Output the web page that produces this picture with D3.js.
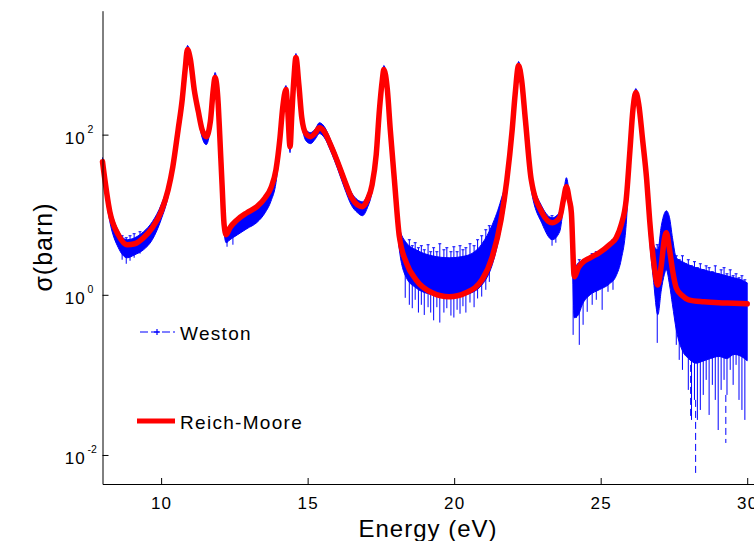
<!DOCTYPE html>
<html><head><meta charset="utf-8">
<script src="https://cdn.jsdelivr.net/npm/d3@7"></script>
<style>
body{margin:0;background:#fff}
svg{display:block}
text{font-family:"Liberation Sans",Arial,Helvetica,sans-serif;fill:#000}
</style>
</head><body>
<svg id="chart" width="754" height="541"></svg>
<script>
// ---- Reich-Moore fit (energy in eV, cross section in barn)
const rmEnergy = [8.0,8.25,8.54,8.84,9.1,9.4,9.7,10.0,10.24,10.4,10.58,10.72,10.82,10.9,11.0,11.13,11.27,11.4,11.54,11.68,11.78,11.84,11.95,12.0,12.08,12.15,12.22,12.35,12.6,12.93,13.27,13.55,13.75,13.92,14.05,14.15,14.26,14.32,14.4,14.46,14.53,14.6,14.7,14.8,14.94,15.1,15.27,15.4,15.57,15.78,16.02,16.25,16.5,16.7,16.87,17.04,17.2,17.34,17.45,17.55,17.6,17.72,17.82,17.96,18.13,18.37,18.7,19.25,19.83,20.4,20.95,21.3,21.6,21.8,21.98,22.08,22.2,22.3,22.43,22.63,23.0,23.35,23.6,23.73,23.83,23.93,24.0,24.1,24.24,24.37,24.64,24.95,25.3,25.53,25.7,25.87,26.0,26.1,26.2,26.3,26.43,26.57,26.67,26.8,26.95,27.07,27.17,27.24,27.35,27.45,27.58,27.79,28.0,28.52,29.03,29.55,30.0];
const rmSigma = [46,10.9,5.62,4.22,4.34,5.16,6.88,10.9,20.5,39.8,115,274,649,1155,866,365,194,115,94.4,145,365,516,237,100,23.7,7.5,5.62,6.88,8.66,10.6,12.6,16.3,21.8,36.5,86.6,218,365,205,70.8,178,487,917,422,163,103,94.4,106,122,109,75,46,27.4,16.3,13.3,12.6,15.4,23.7,56.2,205,487,649,365,115,27.4,5.31,2.51,1.54,1.06,0.944,1.06,1.54,2.99,8.66,27.4,115,316,729,487,154,27.4,10.6,7.94,9.17,15.4,22.4,15.4,10.6,1.68,2.18,2.51,2.9,3.35,4.22,5.16,7.5,15.4,64.9,205,335,237,86.6,27.4,8.66,2.74,1.33,2.37,4.87,5.96,3.65,2.05,1.22,0.972,0.866,0.818,0.794,0.785,0.772];

// ---- Weston measurement: spread of the data (low / high) along energy
const westonEnergy = [8.0,8.25,8.54,8.84,9.1,9.4,9.7,10.0,10.24,10.4,10.58,10.72,10.82,10.9,11.0,11.13,11.27,11.4,11.54,11.68,11.78,11.84,11.95,12.0,12.08,12.15,12.22,12.35,12.6,12.93,13.27,13.55,13.75,13.92,14.05,14.15,14.26,14.32,14.4,14.46,14.53,14.6,14.7,14.8,14.94,15.1,15.27,15.4,15.57,15.78,16.02,16.25,16.5,16.7,16.87,17.04,17.2,17.34,17.45,17.55,17.6,17.72,17.82,17.96,18.13,18.37,18.7,19.25,19.83,20.4,20.95,21.3,21.6,21.8,21.98,22.08,22.2,22.3,22.43,22.63,23.0,23.35,23.6,23.73,23.83,23.93,24.0,24.1,24.24,24.37,24.64,24.95,25.3,25.53,25.7,25.87,26.0,26.1,26.2,26.3,26.43,26.57,26.67,26.8,26.95,27.07,27.17,27.24,27.35,27.45,27.58,27.79,28.0,28.25,28.52,28.75,29.03,29.3,29.55,29.8,30.0];
const westonLow = [34.5,8.18,3.87,2.9,3.16,3.65,4.87,8.66,16.8,34.5,97.2,230,546,917,729,307,163,91.7,75,122,307,434,205,84.1,18.8,5.96,4.47,4.87,5.6,6.7,8.0,10.6,14.8,25.1,66.8,183,307,173,59.6,150,410,772,365,141,84.1,77.2,89.1,103,91.7,63.1,37.6,21.8,13.0,10.6,9.72,12.2,19.4,48.7,178,422,546,307,97.2,19.4,3.65,1.63,1.22,1.0,0.917,1.0,1.33,2.37,6.88,19.4,97.2,274,613,410,130,20.5,7.72,4.87,6.13,12.2,18.8,12.2,7.72,0.516,0.562,0.75,1.0,1.155,1.37,1.73,2.74,7.5,51.6,167,274,194,68.8,20.5,4.87,1.54,0.562,1.155,1.78,2.05,1.33,0.75,0.365,0.2,0.16,0.14,0.15,0.16,0.17,0.16,0.18,0.17,0.15];
const westonHigh = [51.6,13.3,6.31,4.87,5.16,6.13,8.18,13.3,24.4,48.7,137,316,772,1296,1000,422,224,133,106,167,422,596,274,115,27.4,8.18,6.13,6.88,8.18,10,12.2,16.3,21.8,38.7,94.4,244,410,230,81.8,200,546,1029,473,183,115,106,119,141,126,86.6,53.1,31.6,18.8,15.4,14.5,17.8,27.4,64.9,237,562,729,422,133,31.6,6.88,4.47,3.65,3.07,2.9,3.07,4.34,7.5,15.4,30.7,133,365,818,546,178,32.6,12.6,9.17,10.9,18.3,29.0,18.3,12.2,2.18,2.51,2.59,2.9,3.45,4.34,5.46,8.18,16.8,72.9,230,376,266,94.4,30.7,10.3,4.22,3.65,7.29,10.3,11.2,9.17,5.16,2.9,2.59,2.37,2.18,2.05,1.94,1.83,1.73,1.63,1.54,1.41];

// ---- Weston: individual error bars sticking out of the band
const barEnergy = [8.67,8.81,8.94,9.08,9.28,12.25,12.45,18.33,18.47,18.57,18.67,18.78,18.88,18.98,19.11,19.2,19.3,19.41,19.51,19.65,19.75,19.89,19.99,20.1,20.2,20.3,20.4,20.54,20.68,20.8,20.94,21.08,21.2,23.34,23.47,24.06,24.17,24.27,24.4,24.54,24.71,24.85,25.05,25.25,25.42,26.93,27.58,27.68,27.79,27.89,27.99,28.1,28.2,28.3,28.4,28.5,28.6,28.7,28.81,28.91,29.01,29.11,29.21,29.31,29.42,29.52,29.62,29.72,29.82,29.92];
const barLow = [2.74,2.44,2.66,2.9,3.26,3.98,4.22,0.917,0.75,0.68,0.866,0.6,0.75,0.56,0.7,0.6,0.48,0.7,0.45,0.6,0.68,0.55,0.52,0.65,0.58,0.72,0.6,0.8,0.7,0.9,0.95,1.155,1.45,4.1,4.47,0.316,0.516,0.237,0.422,0.613,0.75,0.866,0.649,1.09,1.155,0.251,0.237,0.154,0.1155,0.205,0.0649,0.0274,0.0487,0.0274,0.0365,0.0562,0.0866,0.0316,0.075,0.0487,0.0205,0.0649,0.0866,0.0562,0.1155,0.075,0.1334,0.0487,0.0365,0.0274];
const barHigh = [5.46,5.16,5.46,5.79,6.13,6.13,6.88,4.22,4.87,4.1,4.47,3.87,4.1,3.65,4.22,3.45,3.87,3.45,4.34,3.65,3.87,3.45,3.98,3.45,4.1,3.65,3.87,4.34,4.1,4.87,5.46,6.49,7.29,9.72,9.17,2.59,2.3,2.74,2.59,2.9,3.26,3.45,3.65,4.1,4.87,4.22,3.07,2.74,3.07,2.44,2.74,2.3,2.59,2.18,2.44,2.05,2.3,2.18,1.94,2.3,1.83,2.05,2.18,1.83,2.05,1.73,1.83,1.63,1.73,1.54];

// ---- Weston: dashed connections down to very small values
const dashEnergy = [28.24,29.27,28.07];
const dashLow = [0.00596,0.01413,0.0289];
const dashHigh = [0.0487,0.0562,0.251];

// ---- axes
const xTicks = [10,15,20,25,30];
const yTicks = [0.01,1,100];
const yTickExp = ["-2","0","2"];
const legendLabels = ["Weston","Reich-Moore"];
const xTitle = "Energy (eV)";
const yTitle = "σ(barn)";

const svg = d3.select("#chart");
const x = d3.scaleLinear().domain([8, 30.3]).range([102.5, 756]);
const y = d3.scaleLog().domain([Math.pow(10,-2.3625), Math.pow(10,3.5475)]).range([484, 10.7]);

const blue = "#0000ff", red = "#ff0000";

// Weston band
const band = d3.area()
  .x((d,i)=>x(westonEnergy[i]))
  .y0((d,i)=>y(westonLow[i]))
  .y1((d,i)=>y(westonHigh[i]))
  .curve(d3.curveMonotoneX);
svg.append("path").attr("d", band(westonEnergy)).attr("fill", blue).attr("stroke", blue).attr("stroke-width", 1);

// error bars
const gb = svg.append("g").attr("stroke", blue).attr("stroke-width", 1);
barEnergy.forEach((e,i)=>{
  const xe = x(e);
  gb.append("line").attr("x1",xe).attr("x2",xe).attr("y1",y(barLow[i])).attr("y2",y(barHigh[i]));
  gb.append("line").attr("x1",xe-1.5).attr("x2",xe+1.5).attr("y1",y(barHigh[i])).attr("y2",y(barHigh[i]));
});
// dashed spikes
const gd = svg.append("g").attr("stroke", blue).attr("stroke-width", 1).attr("stroke-dasharray","7,4");
dashEnergy.forEach((e,i)=>{
  gd.append("line").attr("x1",x(e)).attr("x2",x(e)).attr("y1",y(dashHigh[i])).attr("y2",y(dashLow[i]));
});

// Reich-Moore line
const line = d3.line().x((d,i)=>x(rmEnergy[i])).y((d,i)=>y(rmSigma[i])).curve(d3.curveMonotoneX);
svg.append("path").attr("d", line(rmEnergy)).attr("fill","none").attr("stroke", red)
  .attr("stroke-width", 5.5).attr("stroke-linejoin","round").attr("stroke-linecap","round");

// axes
const xAxis = svg.append("g").attr("transform","translate(0,484)")
  .call(d3.axisBottom(x).tickValues(xTicks).tickSize(-6).tickSizeOuter(0).tickPadding(13));
xAxis.selectAll("text").attr("font-size",17).attr("font-family","Liberation Sans, Arial, sans-serif")
  .style("letter-spacing","1.2px").attr("fill","#000");
xAxis.selectAll("path,line").attr("stroke","#000");

const yAxis = svg.append("g").attr("transform","translate(102.5,0)")
  .call(d3.axisLeft(y).tickValues(yTicks).tickSize(-6).tickSizeOuter(0).tickFormat(""));
yAxis.selectAll("path,line").attr("stroke","#000");

yTicks.forEach((t,i)=>{
  svg.append("text").attr("x",86).attr("y",y(t)+9.5).attr("text-anchor","end")
    .attr("font-size",17).style("letter-spacing","1.2px").text("10");
  svg.append("text").attr("x",87.5).attr("y",y(t)-2).attr("font-size",10.5).text(yTickExp[i]);
});

// titles
svg.append("text").attr("x",428).attr("y",537).attr("text-anchor","middle")
  .attr("font-size",24).style("letter-spacing","1px").text(xTitle);
svg.append("text").attr("transform","translate(52,247) rotate(-90)").attr("text-anchor","middle")
  .attr("font-size",25).style("letter-spacing","1px").text(yTitle);

// legend
const lg = svg.append("g");
lg.append("line").attr("x1",140).attr("x2",175).attr("y1",332).attr("y2",332)
  .attr("stroke",blue).attr("stroke-width",1.2).attr("stroke-dasharray","8,3");
lg.append("line").attr("x1",154).attr("x2",160).attr("y1",332).attr("y2",332).attr("stroke",blue).attr("stroke-width",1.2);
lg.append("line").attr("x1",157).attr("x2",157).attr("y1",329).attr("y2",335).attr("stroke",blue).attr("stroke-width",1.2);
lg.append("text").attr("x",180).attr("y",340).attr("font-size",19).style("letter-spacing","1.3px").text(legendLabels[0]);
lg.append("line").attr("x1",137).attr("x2",175).attr("y1",421).attr("y2",421)
  .attr("stroke",red).attr("stroke-width",5);
lg.append("text").attr("x",180).attr("y",429).attr("font-size",19).style("letter-spacing","1.3px").text(legendLabels[1]);
</script>
</body></html>
